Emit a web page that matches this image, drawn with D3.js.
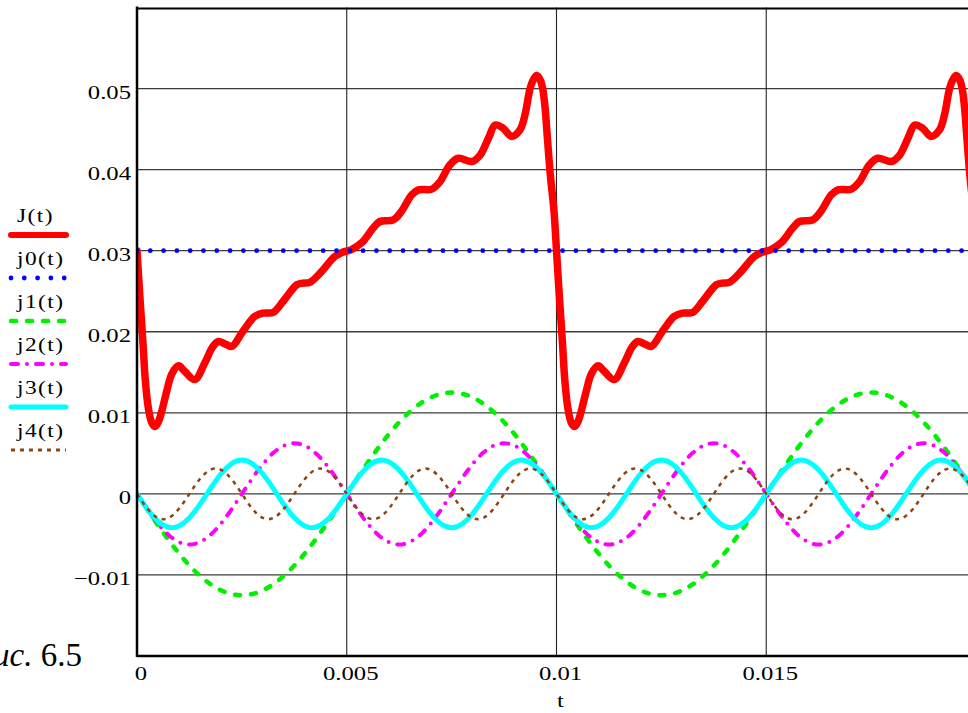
<!DOCTYPE html>
<html>
<head>
<meta charset="utf-8">
<script src="https://cdn.jsdelivr.net/npm/d3@7"></script>
<style>
  body { margin: 0; background: #fff; overflow: hidden; }
  svg { display: block; }
</style>
</head>
<body>
<div id="chart"></div>
<script>
// ---- data ----
const seriesNames = ["J(t)", "j0(t)", "j1(t)", "j2(t)", "j3(t)", "j4(t)"];

const xTicks = [0, 0.005, 0.01, 0.015];
const xTickLabels = ["0", "0.005", "0.01", "0.015"];
const yTicks = [-0.01, 0, 0.01, 0.02, 0.03, 0.04, 0.05];
const yTickLabels = ["\u22120.01", "0", "0.01", "0.02", "0.03", "0.04", "0.05"];

// J(t): total current, two periods
const jTotalTimes = [
  0, 0.00007, 0.00014, 0.0002, 0.00027, 0.00035, 0.00043, 0.00051, 0.00059, 0.00071,
  0.00083, 0.00099, 0.00114, 0.00138, 0.00162, 0.0018, 0.00194, 0.0021, 0.00226, 0.00253,
  0.00281, 0.003, 0.00325, 0.00349, 0.00381, 0.00395, 0.00412, 0.00436, 0.00472, 0.0049,
  0.0051, 0.00536, 0.00563, 0.00579, 0.00611, 0.00631, 0.00655, 0.00671, 0.00703, 0.00722,
  0.00746, 0.00766, 0.00798, 0.00818, 0.00838, 0.00854, 0.00873, 0.00893, 0.00913, 0.00925,
  0.00937, 0.00945, 0.00953, 0.00961, 0.00967, 0.00973, 0.00977, 0.00985, 0.00994,
  0.01, 0.01007, 0.01014, 0.0102, 0.01027, 0.01035, 0.01043, 0.01051, 0.01059, 0.01071,
  0.01083, 0.01099, 0.01114, 0.01138, 0.01162, 0.0118, 0.01194, 0.0121, 0.01226, 0.01253,
  0.01281, 0.013, 0.01325, 0.01349, 0.01381, 0.01395, 0.01412, 0.01436, 0.01472, 0.0149,
  0.0151, 0.01536, 0.01563, 0.01579, 0.01611, 0.01631, 0.01655, 0.01671, 0.01703, 0.01722,
  0.01746, 0.01766, 0.01798, 0.01818, 0.01838, 0.01854, 0.01873, 0.01893, 0.01913, 0.01925,
  0.01937, 0.01945, 0.01953, 0.01961, 0.01967, 0.01973, 0.01977, 0.01985, 0.01994, 0.02
];
const jTotalValues = [
  0.03, 0.0242, 0.0188, 0.0139, 0.0106, 0.0088, 0.0083, 0.0089, 0.0102, 0.0127,
  0.0148, 0.0158, 0.0151, 0.0141, 0.0162, 0.0181, 0.0188, 0.0185, 0.0182, 0.0201,
  0.0219, 0.0223, 0.0224, 0.0238, 0.0258, 0.026, 0.0261, 0.0272, 0.0293, 0.0298,
  0.0301, 0.031, 0.0328, 0.0336, 0.0338, 0.0349, 0.0369, 0.0375, 0.0376, 0.0385,
  0.0406, 0.0414, 0.041, 0.0418, 0.0439, 0.0455, 0.0451, 0.0441, 0.0449, 0.0468,
  0.05, 0.0511, 0.0516, 0.0511, 0.05, 0.0475, 0.0448, 0.0395, 0.0349,
  0.03, 0.0242, 0.0188, 0.0139, 0.0106, 0.0088, 0.0083, 0.0089, 0.0102, 0.0127,
  0.0148, 0.0158, 0.0151, 0.0141, 0.0162, 0.0181, 0.0188, 0.0185, 0.0182, 0.0201,
  0.0219, 0.0223, 0.0224, 0.0238, 0.0258, 0.026, 0.0261, 0.0272, 0.0293, 0.0298,
  0.0301, 0.031, 0.0328, 0.0336, 0.0338, 0.0349, 0.0369, 0.0375, 0.0376, 0.0385,
  0.0406, 0.0414, 0.041, 0.0418, 0.0439, 0.0455, 0.0451, 0.0441, 0.0449, 0.0468,
  0.05, 0.0511, 0.0516, 0.0511, 0.05, 0.0475, 0.0448, 0.0395, 0.0349, 0.03
];

// j0(t): constant component
const j0Times = [0, 0.02];
const j0Values = [0.03, 0.03];

// harmonics, sampled every 0.25 ms
const harmonicTimes = [
  0, 0.00025, 0.0005, 0.00075, 0.001, 0.00125, 0.0015, 0.00175, 0.002, 0.00225,
  0.0025, 0.00275, 0.003, 0.00325, 0.0035, 0.00375, 0.004, 0.00425, 0.0045, 0.00475,
  0.005, 0.00525, 0.0055, 0.00575, 0.006, 0.00625, 0.0065, 0.00675, 0.007, 0.00725,
  0.0075, 0.00775, 0.008, 0.00825, 0.0085, 0.00875, 0.009, 0.00925, 0.0095, 0.00975,
  0.01, 0.01025, 0.0105, 0.01075, 0.011, 0.01125, 0.0115, 0.01175, 0.012, 0.01225,
  0.0125, 0.01275, 0.013, 0.01325, 0.0135, 0.01375, 0.014, 0.01425, 0.0145, 0.01475,
  0.015, 0.01525, 0.0155, 0.01575, 0.016, 0.01625, 0.0165, 0.01675, 0.017, 0.01725,
  0.0175, 0.01775, 0.018, 0.01825, 0.0185, 0.01875, 0.019, 0.01925, 0.0195, 0.01975,
  0.02
];
const j1Values = [
  0, -0.00196, -0.00386, -0.00567, -0.00735, -0.00884, -0.01011, -0.01114, -0.01189, -0.01235,
  -0.0125, -0.01235, -0.01189, -0.01114, -0.01011, -0.00884, -0.00735, -0.00567, -0.00386, -0.00196,
  0, 0.00196, 0.00386, 0.00567, 0.00735, 0.00884, 0.01011, 0.01114, 0.01189, 0.01235,
  0.0125, 0.01235, 0.01189, 0.01114, 0.01011, 0.00884, 0.00735, 0.00567, 0.00386, 0.00196,
  0, -0.00196, -0.00386, -0.00567, -0.00735, -0.00884, -0.01011, -0.01114, -0.01189, -0.01235,
  -0.0125, -0.01235, -0.01189, -0.01114, -0.01011, -0.00884, -0.00735, -0.00567, -0.00386, -0.00196,
  0, 0.00196, 0.00386, 0.00567, 0.00735, 0.00884, 0.01011, 0.01114, 0.01189, 0.01235,
  0.0125, 0.01235, 0.01189, 0.01114, 0.01011, 0.00884, 0.00735, 0.00567, 0.00386, 0.00196,
  0
];
const j2Values = [
  0, -0.00193, -0.00367, -0.00506, -0.00594, -0.00625, -0.00594, -0.00506, -0.00367, -0.00193,
  0, 0.00193, 0.00367, 0.00506, 0.00594, 0.00625, 0.00594, 0.00506, 0.00367, 0.00193,
  0, -0.00193, -0.00367, -0.00506, -0.00594, -0.00625, -0.00594, -0.00506, -0.00367, -0.00193,
  0, 0.00193, 0.00367, 0.00506, 0.00594, 0.00625, 0.00594, 0.00506, 0.00367, 0.00193,
  0, -0.00193, -0.00367, -0.00506, -0.00594, -0.00625, -0.00594, -0.00506, -0.00367, -0.00193,
  0, 0.00193, 0.00367, 0.00506, 0.00594, 0.00625, 0.00594, 0.00506, 0.00367, 0.00193,
  0, -0.00193, -0.00367, -0.00506, -0.00594, -0.00625, -0.00594, -0.00506, -0.00367, -0.00193,
  0, 0.00193, 0.00367, 0.00506, 0.00594, 0.00625, 0.00594, 0.00506, 0.00367, 0.00193,
  0
];
const j3Values = [
  0, -0.00189, -0.00337, -0.00412, -0.00396, -0.00295, -0.00129, 0.00065, 0.00245, 0.00371,
  0.00417, 0.00371, 0.00245, 0.00065, -0.00129, -0.00295, -0.00396, -0.00412, -0.00337, -0.00189,
  0, 0.00189, 0.00337, 0.00412, 0.00396, 0.00295, 0.00129, -0.00065, -0.00245, -0.00371,
  -0.00417, -0.00371, -0.00245, -0.00065, 0.00129, 0.00295, 0.00396, 0.00412, 0.00337, 0.00189,
  0, -0.00189, -0.00337, -0.00412, -0.00396, -0.00295, -0.00129, 0.00065, 0.00245, 0.00371,
  0.00417, 0.00371, 0.00245, 0.00065, -0.00129, -0.00295, -0.00396, -0.00412, -0.00337, -0.00189,
  0, 0.00189, 0.00337, 0.00412, 0.00396, 0.00295, 0.00129, -0.00065, -0.00245, -0.00371,
  -0.00417, -0.00371, -0.00245, -0.00065, 0.00129, 0.00295, 0.00396, 0.00412, 0.00337, 0.00189,
  0
];
const j4Values = [
  0, -0.00184, -0.00297, -0.00297, -0.00184, 0, 0.00184, 0.00297, 0.00297, 0.00184,
  0, -0.00184, -0.00297, -0.00297, -0.00184, 0, 0.00184, 0.00297, 0.00297, 0.00184,
  0, -0.00184, -0.00297, -0.00297, -0.00184, 0, 0.00184, 0.00297, 0.00297, 0.00184,
  0, -0.00184, -0.00297, -0.00297, -0.00184, 0, 0.00184, 0.00297, 0.00297, 0.00184,
  0, -0.00184, -0.00297, -0.00297, -0.00184, 0, 0.00184, 0.00297, 0.00297, 0.00184,
  0, -0.00184, -0.00297, -0.00297, -0.00184, 0, 0.00184, 0.00297, 0.00297, 0.00184,
  0, -0.00184, -0.00297, -0.00297, -0.00184, 0, 0.00184, 0.00297, 0.00297, 0.00184,
  0, -0.00184, -0.00297, -0.00297, -0.00184, 0, 0.00184, 0.00297, 0.00297, 0.00184,
  0
];

// ---- styles (Mathcad-like traces) ----
const traceStyles = [
  { color: "#ff0000", width: 7.5, legendWidth: 6,   dash: null,       cap: "round", curve: d3.curveCatmullRom },
  { color: "#0000ff", width: 4.8, legendWidth: 4.8, dash: "0 13.3",   cap: "round", curve: d3.curveLinear },
  { color: "#00f000", width: 4.5, legendWidth: 4.5, dash: "5 11",     cap: "round", curve: d3.curveNatural },
  { color: "#ff00ff", width: 4,   legendWidth: 4,   dash: "7 9 0 9",  cap: "round", curve: d3.curveNatural },
  { color: "#00ffff", width: 5,   legendWidth: 5,   dash: null,       cap: "round", curve: d3.curveNatural },
  { color: "#8b4513", width: 2.5, legendWidth: 3,   dash: "4 5",      cap: "butt",  curve: d3.curveNatural }
];

const traces = [
  d3.zip(jTotalTimes, jTotalValues),
  d3.zip(j0Times, j0Values),
  d3.zip(harmonicTimes, j1Values),
  d3.zip(harmonicTimes, j2Values),
  d3.zip(harmonicTimes, j3Values),
  d3.zip(harmonicTimes, j4Values)
];

// ---- layout ----
const width = 968, height = 713;
const plot = { left: 137, right: 976, top: 7.5, bottom: 656 };
const fontFamily = "'Liberation Serif', 'Times New Roman', serif";
const stretch = 1.3; // Mathcad labels come out wide

const svg = d3.select("#chart").append("svg")
  .attr("width", width)
  .attr("height", height);

const x = d3.scaleLinear().domain([0, 0.02]).range([plot.left, plot.right]);
const y = d3.scaleLinear().domain([-0.02, 0.06]).range([plot.bottom, plot.top]);

svg.append("clipPath").attr("id", "plot-clip")
  .append("rect")
  .attr("x", plot.left).attr("y", plot.top)
  .attr("width", plot.right - plot.left).attr("height", plot.bottom - plot.top);

// grid
svg.append("g")
  .selectAll("line")
  .data(yTicks)
  .join("line")
  .attr("x1", plot.left).attr("x2", plot.right)
  .attr("y1", d => y(d)).attr("y2", d => y(d))
  .attr("stroke", "#3c3c3c")
  .attr("stroke-width", 1.3);

svg.append("g")
  .selectAll("line")
  .data(xTicks.filter(d => d > 0))
  .join("line")
  .attr("x1", d => x(d)).attr("x2", d => x(d))
  .attr("y1", plot.top).attr("y2", plot.bottom)
  .attr("stroke", "#222")
  .attr("stroke-width", 1.1);

// traces
const line = d3.line().x(d => x(d[0])).y(d => y(d[1]));
const traceGroup = svg.append("g").attr("clip-path", "url(#plot-clip)");
traces.forEach((data, i) => {
  const s = traceStyles[i];
  traceGroup.append("path")
    .datum(data)
    .attr("fill", "none")
    .attr("stroke", s.color)
    .attr("stroke-width", s.width)
    .attr("stroke-linecap", s.cap)
    .attr("stroke-linejoin", "round")
    .attr("stroke-dasharray", s.dash)
    .attr("d", line.curve(s.curve));
});

// frame
svg.append("line")
  .attr("x1", plot.left).attr("x2", plot.left)
  .attr("y1", plot.top - 1).attr("y2", plot.bottom + 1)
  .attr("stroke", "#000").attr("stroke-width", 2.5);
svg.append("line")
  .attr("x1", plot.left).attr("x2", plot.right)
  .attr("y1", plot.top + 1).attr("y2", plot.top + 1)
  .attr("stroke", "#000").attr("stroke-width", 2);
svg.append("line")
  .attr("x1", plot.left).attr("x2", plot.right)
  .attr("y1", plot.bottom).attr("y2", plot.bottom)
  .attr("stroke", "#000").attr("stroke-width", 2.5);

// helper for the stretched serif labels
function label(g, px, py, str, anchor, size) {
  return g.append("text")
    .attr("transform", `translate(${px},${py}) scale(${stretch},1)`)
    .attr("text-anchor", anchor)
    .attr("font-family", fontFamily)
    .attr("font-size", size)
    .attr("fill", "#000")
    .text(str);
}

// y tick labels
const yLabels = svg.append("g");
yTicks.forEach((v, i) => label(yLabels, 131, y(v) + 10.5, yTickLabels[i], "end", 19));

// x tick labels and title
const xLabels = svg.append("g");
xTicks.forEach((v, i) => label(xLabels, x(v) + 4, 680, xTickLabels[i], "middle", 19));
label(xLabels, x(0.01) + 4, 707, "t", "middle", 19);

// legend
const legend = svg.append("g");
seriesNames.forEach((name, i) => {
  const s = traceStyles[i];
  const ly = 235 + i * 43;
  label(legend, 17, ly - 13, name, "start", 18).attr("letter-spacing", 1.1);
  legend.append("line")
    .attr("x1", 11).attr("x2", 66)
    .attr("y1", ly).attr("y2", ly)
    .attr("stroke", s.color)
    .attr("stroke-width", s.legendWidth)
    .attr("stroke-linecap", s.cap)
    .attr("stroke-dasharray", s.dash);
});

// figure caption (partly cut off at the left edge, as in the source)
const caption = svg.append("text")
  .attr("x", 82).attr("y", 666)
  .attr("text-anchor", "end")
  .attr("font-family", fontFamily)
  .attr("font-size", 33)
  .attr("fill", "#000");
caption.append("tspan").attr("font-style", "italic").text("Рис.");
caption.append("tspan").text(" 6.5");
</script>
</body>
</html>
